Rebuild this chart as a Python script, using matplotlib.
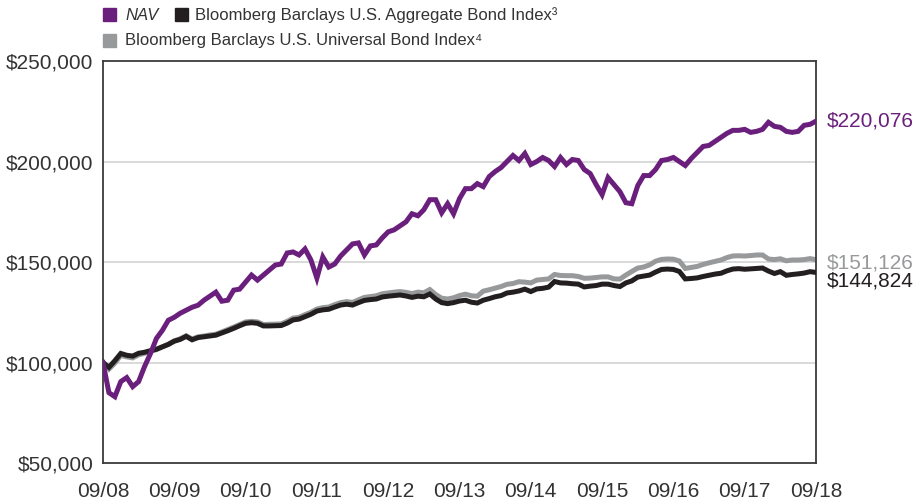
import matplotlib
matplotlib.use('Agg')
import matplotlib.pyplot as plt
import numpy as np
from matplotlib.patches import Rectangle
from matplotlib import rcParams

rcParams['font.family'] = ['Liberation Sans', 'DejaVu Sans']
rcParams['font.size'] = 15

#================ data (values in $1000s, monthly) =======================================
year_labels = ['09/08', '09/09', '09/10', '09/11', '09/12',
               '09/13', '09/14', '09/15', '09/16', '09/17', '09/18']

nav = [100, 85, 83, 90.5, 92.5, 88, 90.5, 98, 104.5, 112, 116, 121,
       122.5, 124.5, 126, 127.5, 128.5, 131, 133, 135, 130.5, 131, 136, 136.5,
       140, 143.5, 141, 143.5, 146, 148.5, 149, 154.5, 155, 153.5, 156.5, 151,
       142, 152.5, 147.5, 149, 153, 156, 159, 159.5, 153.5, 158, 158.5, 162,
       165, 166, 168, 170, 174, 173, 176, 181, 181, 174.5, 179, 174,
       181.5, 186.5, 186.5, 189, 187.5, 192.5, 195, 197, 200, 203, 200.5, 204,
       198.5, 200, 202, 200.5, 197.5, 202, 198.5, 201, 200.5, 196, 194, 188.5,
       183.5, 192, 188.5, 185, 179.5, 179, 188, 193, 193, 196, 200.5, 201,
       202, 200, 198, 201.5, 204.5, 207.5, 208, 210, 212, 214, 215.5, 215.5,
       216, 214.5, 215, 216, 219.5, 217.5, 217, 215, 214.5, 215, 218, 218.5,
       220.076]

aggregate = [100.0, 97.6, 100.9, 104.5, 103.6, 103.2, 104.6, 105.1, 105.9, 106.6, 107.8, 109.0,
             110.6, 111.5, 113.0, 111.3, 112.4, 112.8, 113.2, 113.6, 114.7, 115.8, 117.0, 118.3,
             119.5, 119.8, 119.5, 118.2, 118.2, 118.3, 118.4, 119.6, 121.2, 121.6, 122.8, 124.0,
             125.6, 126.2, 126.5, 127.6, 128.6, 129.0, 128.6, 129.8, 130.9, 131.3, 131.6, 132.6,
             133.0, 133.3, 133.6, 133.1, 132.4, 133.0, 132.7, 134.1, 131.6, 129.8, 129.3, 129.8,
             130.6, 131.0, 130.0, 129.6, 131.0, 131.8, 132.7, 133.3, 134.6, 135.0, 135.6, 136.5,
             135.3, 136.6, 136.9, 137.5, 140.3, 139.6, 139.5, 139.2, 139.0, 137.6, 138.0, 138.3,
             139.0, 139.0, 138.3, 137.8, 139.6, 140.6, 142.5, 143.0, 143.5, 145.0, 146.3, 146.5,
             146.3, 145.3, 141.6, 141.8, 142.1, 142.8, 143.4, 144.0, 144.4, 145.6, 146.5, 146.7,
             146.4, 146.6, 146.8, 147.0, 145.5, 144.3, 145.2, 143.4, 143.8, 144.1, 144.5, 145.2,
             144.824]

universal = [100.0, 96.7, 99.7, 103.5, 102.8, 102.3, 103.8, 104.6, 105.6, 106.4, 107.8, 109.1,
             110.8, 111.8, 113.3, 111.7, 112.8, 113.2, 113.7, 114.1, 115.2, 116.4, 117.6, 118.9,
             120.2, 120.5, 120.2, 118.9, 119.0, 119.1, 119.2, 120.5, 122.1, 122.5, 123.8, 125.0,
             126.6, 127.3, 127.6, 128.8, 129.8, 130.3, 129.9, 131.2, 132.4, 132.8, 133.2, 134.2,
             134.6, 135.0, 135.3, 134.9, 134.3, 135.0, 134.7, 136.3, 133.8, 132.0, 131.6, 132.2,
             133.3, 134.0, 133.2, 133.0, 135.5, 136.2, 137.0, 137.8, 138.9, 139.3, 140.2, 140.0,
             139.6, 141.0, 141.3, 141.6, 143.8, 143.3, 143.2, 143.2, 142.8, 141.9, 142.0, 142.3,
             142.6, 142.6, 141.6, 141.5, 143.5, 145.3, 147.0, 147.5, 148.6, 150.4, 151.3, 151.5,
             151.4, 150.5, 146.8, 147.3, 147.8, 148.8, 149.6, 150.3, 151.0, 152.2, 153.0, 153.1,
             153.0, 153.2, 153.5, 153.5, 151.5, 151.2, 151.6, 150.6, 151.0, 151.0, 151.2, 151.7,
             151.126]

yticks = [50000, 100000, 150000, 200000, 250000]

#================ colours ====================
c_nav = '#6b1f7c'
c_agg = '#231f20'
c_uni = '#98999b'
c_text = '#333333'

months = np.arange(len(nav))
nav_v = np.array(nav) * 1000
agg_v = np.array(aggregate) * 1000
uni_v = np.array(universal) * 1000

fig = plt.figure(figsize=(9.21, 5.03), dpi=100)
ax = fig.add_axes([0.1118, 0.0795, 0.7742, 0.7992])

for y in yticks[1:-1]:
    ax.axhline(y, color='#d3d3d3', linewidth=1.2, zorder=1)

ax.plot(months, uni_v, color=c_uni, linewidth=3.6, solid_joinstyle='miter', zorder=2)
ax.plot(months, agg_v, color=c_agg, linewidth=3.6, solid_joinstyle='miter', zorder=3)
ax.plot(months, nav_v, color=c_nav, linewidth=3.6, solid_joinstyle='miter', zorder=4)

ax.set_xlim(0, len(nav) - 1)
ax.set_ylim(yticks[0], yticks[-1])
ax.set_xticks(np.arange(0, len(nav), 12))
ax.set_xticklabels(year_labels)
ax.set_yticks(yticks)
ax.set_yticklabels(['${:,}'.format(v) for v in yticks])
ax.tick_params(length=0, labelcolor=c_text, labelsize=15)
ax.tick_params(axis='y', pad=7)
ax.tick_params(axis='x', pad=14)

for s in ax.spines.values():
    s.set_color('#3a3a3a')
    s.set_linewidth(1.3)

#end value labels
ax.annotate('$220,076', xy=(1.0, nav_v[-1]), xycoords=('axes fraction', 'data'),
            xytext=(8, 0), textcoords='offset points', va='center', ha='left',
            color=c_nav, fontsize=15, annotation_clip=False)
ax.annotate('$151,126', xy=(1.0, uni_v[-1]), xycoords=('axes fraction', 'data'),
            xytext=(8, -2), textcoords='offset points', va='center', ha='left',
            color=c_uni, fontsize=15, annotation_clip=False)
ax.annotate('$144,824', xy=(1.0, agg_v[-1]), xycoords=('axes fraction', 'data'),
            xytext=(8, -6), textcoords='offset points', va='center', ha='left',
            color=c_agg, fontsize=15, annotation_clip=False)

#legend built by hand
W, H = 921.0, 503.0
def square(x, y, c):
    fig.patches.append(Rectangle((x / W, 1 - (y + 13) / H), 13 / W, 13 / H,
                                 transform=fig.transFigure, color=c, figure=fig))

square(103, 8, c_nav)
fig.text(125 / W, 1 - 15 / H, 'NAV', style='italic', color=c_text, fontsize=12, va='center')
square(175, 8, c_agg)
fig.text(195 / W, 1 - 15 / H, 'Bloomberg Barclays U.S. Aggregate Bond Index\u00b3',
         color=c_text, fontsize=12, va='center')
square(103, 34, c_uni)
fig.text(125 / W, 1 - 41 / H, 'Bloomberg Barclays U.S. Universal Bond Index\u2074',
         color=c_text, fontsize=12, va='center')

plt.savefig('out.png', dpi=100)
